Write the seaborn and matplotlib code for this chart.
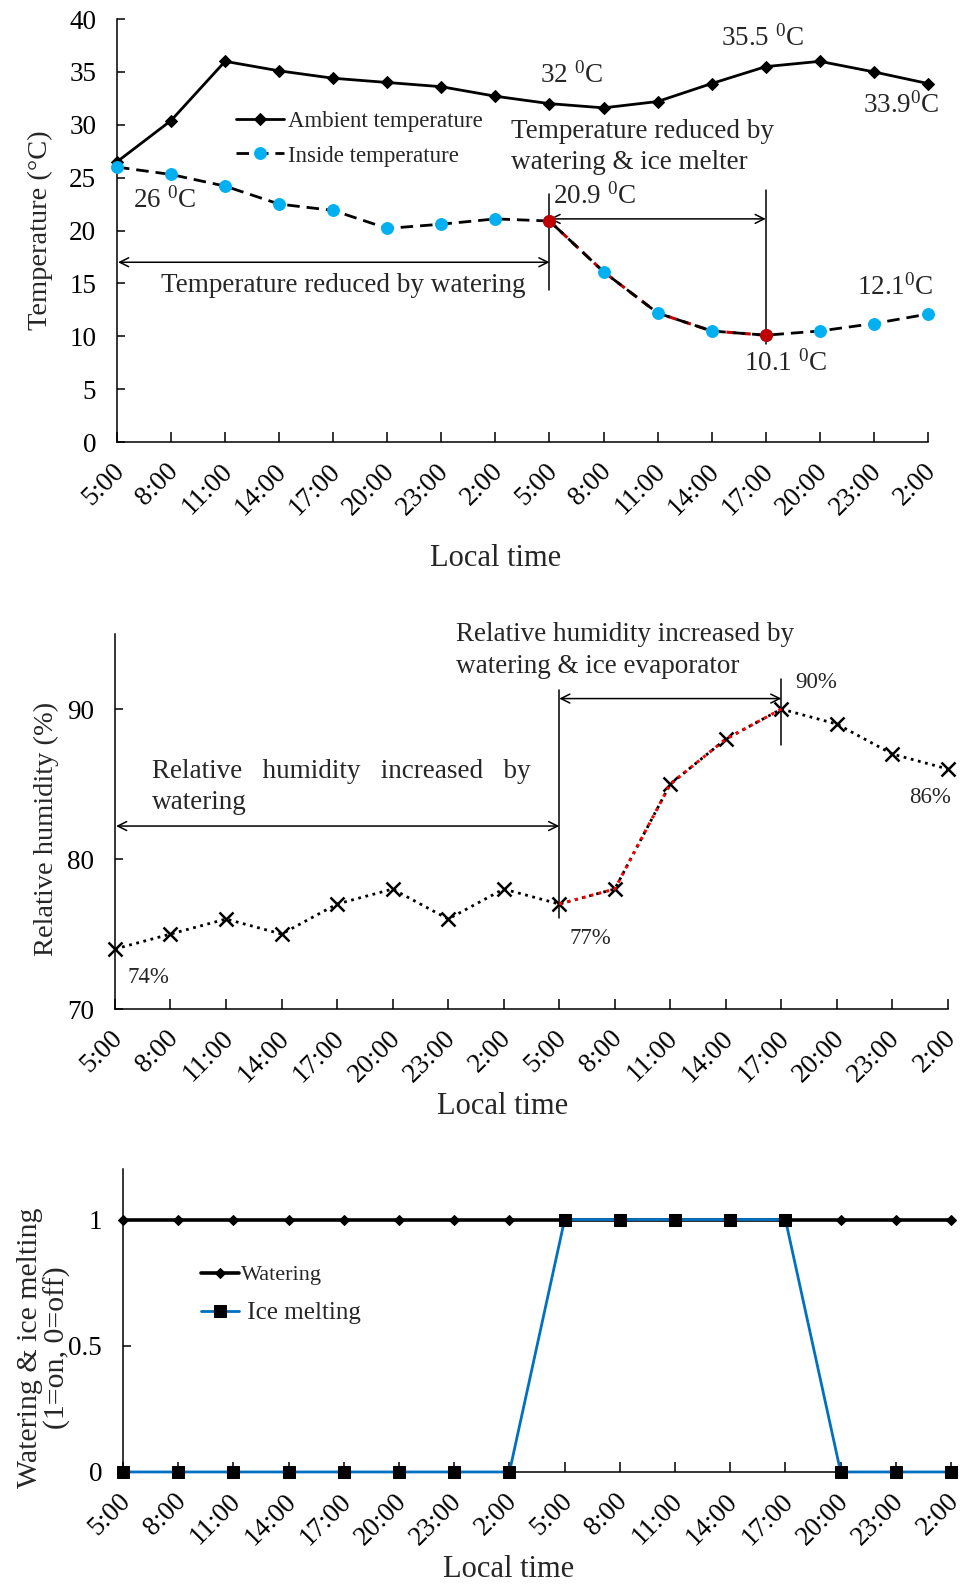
import numpy as np
import pandas as pd
import matplotlib
matplotlib.use("Agg")
import matplotlib.pyplot as plt
import matplotlib.transforms as mtransforms
import seaborn as sns

# ---------------- data ----------------
time_labels = ["5:00", "8:00", "11:00", "14:00", "17:00", "20:00", "23:00", "2:00",
               "5:00", "8:00", "11:00", "14:00", "17:00", "20:00", "23:00", "2:00"]
ambient_temp = [26.5, 30.4, 36.0, 35.1, 34.4, 34.0, 33.6, 32.7,
                32.0, 31.6, 32.2, 33.9, 35.5, 36.0, 35.0, 33.9]
inside_temp = [26.0, 25.3, 24.2, 22.5, 21.9, 20.2, 20.6, 21.1,
               20.9, 16.1, 12.2, 10.5, 10.1, 10.5, 11.2, 12.1]
rel_humidity = [74, 75, 76, 75, 77, 78, 76, 78,
                77, 78, 85, 88, 90, 89, 87, 86]
watering = [1, 1, 1, 1, 1, 1, 1, 1, 1, 1, 1, 1, 1, 1, 1, 1]
ice_melting = [0, 0, 0, 0, 0, 0, 0, 0, 1, 1, 1, 1, 1, 0, 0, 0]
temp_yticks = [0, 5, 10, 15, 20, 25, 30, 35, 40]
rh_yticks = [70, 80, 90]
state_yticks = [0, 0.5, 1]
state_yticklabels = ["0", "0.5", "1"]

# ---------------- style ----------------
sns.set_style("ticks")
plt.rcParams["font.family"] = ["Liberation Serif", "DejaVu Serif"]
plt.rcParams["mathtext.fontset"] = "custom"
plt.rcParams["mathtext.rm"] = "Liberation Serif"
plt.rcParams["mathtext.default"] = "regular"
plt.rcParams["axes.linewidth"] = 1.1
plt.rcParams["axes.edgecolor"] = "black"

TICK_FS = 19.5
LABEL_FS = 22
YLABEL_FS = 20.5
ANN_FS = 19.5
VAL_FS = 16.5

idx = np.arange(len(time_labels))
df = pd.DataFrame({"x": idx, "time": time_labels, "ambient": ambient_temp,
                   "inside": inside_temp, "rh": rel_humidity,
                   "watering": watering, "ice": ice_melting})
seg = df.iloc[8:13]

fig = plt.figure(figsize=(9.62, 15.86), dpi=100)
label_shift = mtransforms.ScaledTranslation(-5 / 100, 0, fig.dpi_scale_trans)


def style_axes(ax, xlab_xy, ylab_xy):
    sns.despine(ax=ax)
    ax.set_xlim(0, 15)
    ax.set_xticks(idx)
    ax.set_xticklabels(time_labels, rotation=45, ha="right", rotation_mode="anchor",
                       fontsize=TICK_FS)
    ax.tick_params(axis="x", direction="in", length=7, width=1.1, pad=12, colors="black")
    ax.tick_params(axis="y", direction="in", length=6, width=1.1, labelsize=TICK_FS,
                   pad=15, colors="black")
    for lab in ax.get_xticklabels():
        lab.set_transform(lab.get_transform() + label_shift)
    ax.xaxis.set_label_coords(*xlab_xy)
    ax.xaxis.label.set_va("center")
    ax.xaxis.label.set_ha("center")
    ax.yaxis.set_label_coords(*ylab_xy)
    ax.yaxis.label.set_va("center")
    ax.yaxis.label.set_ha("center")


arrow_kw = dict(arrowstyle="<->", color="black", lw=1.1, shrinkA=0, shrinkB=0,
                mutation_scale=16)

# ================= Panel 1: temperature =================
ax1 = fig.add_axes([0.1216, 0.7213, 0.8430, 0.2667])
sns.lineplot(data=df, x="x", y="ambient", ax=ax1, color="black", lw=2.0,
             marker="D", markersize=6, markeredgecolor="black", markerfacecolor="black",
             label="Ambient temperature", clip_on=False, zorder=3)
sns.lineplot(data=seg, x="x", y="inside", ax=ax1, color="#C00000", lw=2.2, ls="--",
             zorder=3, legend=False)
sns.lineplot(data=df, x="x", y="inside", ax=ax1, color="black", lw=2.0, ls="--",
             marker="o", markersize=8.5, markerfacecolor="#00B0F0",
             markeredgecolor="#00B0F0", label="Inside temperature", clip_on=False, zorder=4)
ax1.lines[1].set_dashes((3.0, 2.0))
ax1.lines[2].set_dashes((4.5, 2.5))
sns.scatterplot(data=df.iloc[[8, 12]], x="x", y="inside", ax=ax1, color="#C00000",
                s=75, edgecolor="#C00000", zorder=5, legend=False)
ax1.set_ylim(0, 40)
ax1.set_yticks(temp_yticks)
ax1.set_xlabel("Local time", fontsize=LABEL_FS)
ax1.set_ylabel("Temperature (°C)", fontsize=YLABEL_FS)
style_axes(ax1, (0.467, -0.276), (-0.095, 0.5))
ax1.legend(loc="upper left", bbox_to_anchor=(0.135, 0.805), frameon=False,
           fontsize=16.5, handlelength=2.1, handletextpad=0.2, labelspacing=0.6,
           borderaxespad=0)

ax1.text(0.3, 22.9, "26 $^0$C", fontsize=ANN_FS, ha="left", va="center")
ax1.text(8.4, 34.7, "32 $^0$C", fontsize=ANN_FS, ha="center", va="center")
ax1.text(11.95, 38.2, "35.5 $^0$C", fontsize=ANN_FS, ha="center", va="center")
ax1.text(14.5, 31.8, "33.9$^0$C", fontsize=ANN_FS, ha="center", va="center")
ax1.text(8.84, 23.2, "20.9 $^0$C", fontsize=ANN_FS, ha="center", va="center")
ax1.text(12.37, 7.45, "10.1 $^0$C", fontsize=ANN_FS, ha="center", va="center")
ax1.text(14.4, 14.6, "12.1$^0$C", fontsize=ANN_FS, ha="center", va="center")
ax1.text(7.29, 27.9, "Temperature reduced by\nwatering & ice melter",
         fontsize=ANN_FS, ha="left", va="center", linespacing=1.35)
ax1.text(4.18, 14.8, "Temperature reduced by watering", fontsize=ANN_FS,
         ha="center", va="center")
ax1.annotate("", xy=(0.02, 17.0), xytext=(8, 17.0), arrowprops=arrow_kw)
ax1.annotate("", xy=(8, 21.1), xytext=(12, 21.1), arrowprops=arrow_kw)
ax1.plot([8, 8], [14.4, 23.5], color="black", lw=1.1)
ax1.plot([12, 12], [9.3, 23.8], color="black", lw=1.1)

# ================= Panel 2: relative humidity =================
ax2 = fig.add_axes([0.1195, 0.3638, 0.8659, 0.2364])
sns.lineplot(data=df, x="x", y="rh", ax=ax2, color="black", lw=2.0, ls=":",
             marker="x", markersize=10, markeredgewidth=1.8, markeredgecolor="black",
             clip_on=False, zorder=3, legend=False)
sns.lineplot(data=seg, x="x", y="rh", ax=ax2, color="#FF0000", lw=2.2, ls=":",
             zorder=4, legend=False)
ax2.set_ylim(70, 95)
ax2.set_yticks(rh_yticks)
ax2.set_xlabel("Local time", fontsize=LABEL_FS)
ax2.set_ylabel("Relative humidity (%)", fontsize=YLABEL_FS)
style_axes(ax2, (0.465, -0.26), (-0.082, 0.48))

ax2.text(0.6, 72.1, "74%", fontsize=VAL_FS, ha="center", va="center")
ax2.text(8.56, 74.7, "77%", fontsize=VAL_FS, ha="center", va="center")
ax2.text(12.63, 91.8, "90%", fontsize=VAL_FS, ha="center", va="center")
ax2.text(14.67, 84.1, "86%", fontsize=VAL_FS, ha="center", va="center")
ax2.text(0.66, 84.8, "Relative   humidity   increased   by\nwatering", fontsize=ANN_FS,
         ha="left", va="center", linespacing=1.35)
ax2.text(6.14, 93.9, "Relative humidity increased by\nwatering & ice evaporator",
         fontsize=ANN_FS, ha="left", va="center", linespacing=1.35)
ax2.annotate("", xy=(0.02, 82.2), xytext=(8, 82.2), arrowprops=arrow_kw)
ax2.annotate("", xy=(8, 90.7), xytext=(12, 90.7), arrowprops=arrow_kw)
ax2.plot([8, 8], [76.1, 91.3], color="black", lw=1.1)
ax2.plot([12, 12], [87.6, 92.0], color="black", lw=1.1)

# ================= Panel 3: watering & ice melting =================
ax3 = fig.add_axes([0.1279, 0.0719, 0.8607, 0.1910])
sns.lineplot(data=df, x="x", y="watering", ax=ax3, color="black", lw=2.6,
             marker="D", markersize=5, markeredgecolor="black", markerfacecolor="black",
             label="Watering", clip_on=False, zorder=3)
sns.lineplot(data=df, x="x", y="ice", ax=ax3, color="#0070C0", lw=2.0,
             marker="s", markersize=9, markeredgecolor="black", markerfacecolor="black",
             label=" Ice melting", clip_on=False, zorder=4)
ax3.set_ylim(0, 1.2)
ax3.set_yticks(state_yticks)
ax3.set_yticklabels(state_yticklabels)
ax3.set_xlabel("Local time", fontsize=LABEL_FS)
ax3.set_ylabel("Watering & ice melting\n(1=on, 0=off)", fontsize=21.5, linespacing=1.05)
style_axes(ax3, (0.466, -0.323), (-0.0954, 0.41))
leg3 = ax3.legend(loc="upper left", bbox_to_anchor=(0.084, 0.713), frameon=False,
                  fontsize=16, handlelength=1.7, handletextpad=0.1, labelspacing=0.75,
                  borderaxespad=0)
leg3.get_texts()[1].set_fontsize(18)

fig.savefig("out.png", dpi=100)
